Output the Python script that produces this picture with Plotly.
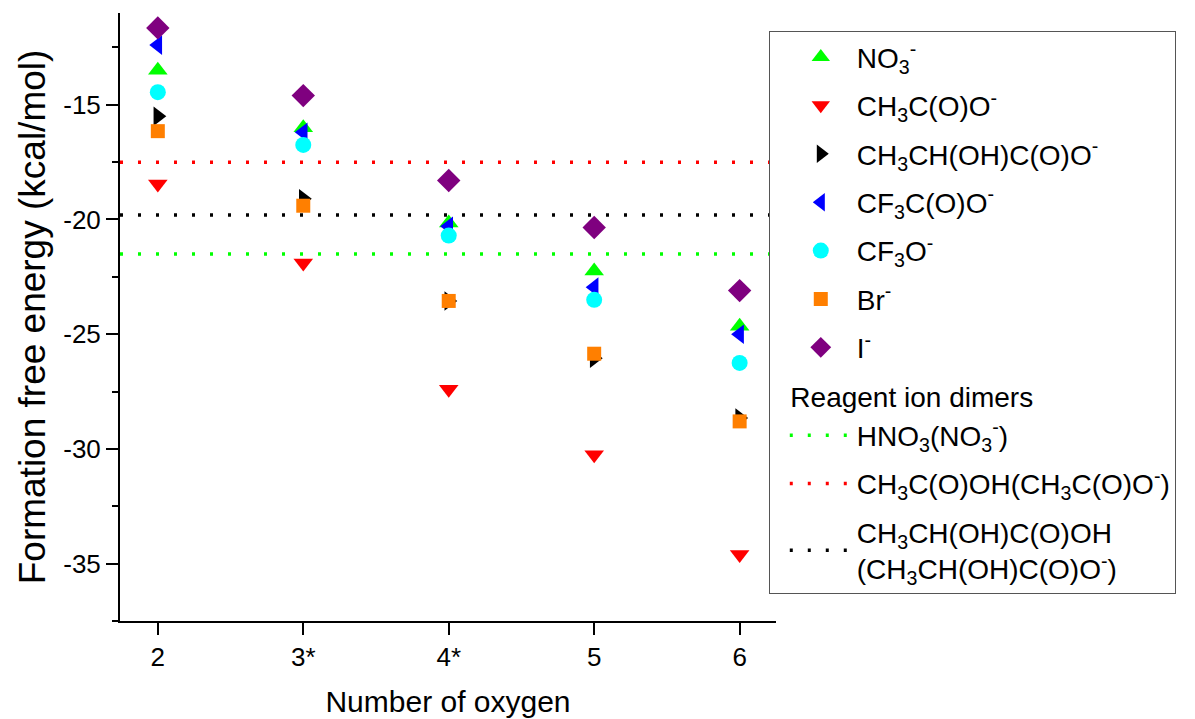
import plotly.graph_objects as go

categories = ["2", "3*", "4*", "5", "6"]

nitrate = [-13.5, -16.0, -20.15, -22.25, -24.65]
acetate = [-18.45, -21.9, -27.4, -30.25, -34.6]
lactate = [-15.5, -19.1, -23.55, -26.05, -28.65]
tfa = [-12.4, -16.2, -20.3, -22.95, -25.0]
cf3o = [-14.45, -16.75, -20.7, -23.5, -26.25]
bromide = [-16.15, -19.4, -23.55, -25.85, -28.8]
iodide = [-11.65, -14.6, -18.3, -20.35, -23.1]

series_names = ["NO<sub>3</sub><sup>-</sup>",
                "CH<sub>3</sub>C(O)O<sup>-</sup>",
                "CH<sub>3</sub>CH(OH)C(O)O<sup>-</sup>",
                "CF<sub>3</sub>C(O)O<sup>-</sup>",
                "CF<sub>3</sub>O<sup>-</sup>",
                "Br<sup>-</sup>",
                "I<sup>-</sup>"]

dimer_title = "\u00a0\u00a0Reagent ion dimers"
dimer_names = ["HNO<sub>3</sub>(NO<sub>3</sub><sup>-</sup>)",
               "CH<sub>3</sub>C(O)OH(CH<sub>3</sub>C(O)O<sup>-</sup>)",
               "CH<sub>3</sub>CH(OH)C(O)OH<br>(CH<sub>3</sub>CH(OH)C(O)O<sup>-</sup>)"]
dimer_values = [-21.5, -17.5, -19.8]

y_tickvals = [-15, -20, -25, -30, -35]
y_ticktext = ["-15", "-20", "-25", "-30", "-35"]
y_minor = [-12.5, -17.5, -22.5, -27.5, -32.5, -37.5]

series_values = [nitrate, acetate, lactate, tfa, cf3o, bromide, iodide]
symbols = ["triangle-up", "triangle-down", "triangle-right", "triangle-left",
           "circle", "square", "diamond"]
colors = ["#00FF00", "#FF0000", "#000000", "#0000FF", "#00FFFF", "#FF7F00", "#7F007F"]
sizes = [17, 17, 17, 17, 16, 14, 18]
dimer_colors = ["#00FF00", "#FF0000", "#000000"]

FONT = "Liberation Sans, Arial, sans-serif"

fig = go.Figure()

for i in range(3):
    fig.add_hline(y=dimer_values[i], line=dict(color=dimer_colors[i], width=3.5, dash="3px,15px"),
                  layer="below")

for name, vals, sym, col, sz in zip(series_names, series_values, symbols, colors, sizes):
    fig.add_trace(go.Scatter(x=categories, y=vals, mode="markers", name=name,
                             legendgroup=name,
                             marker=dict(symbol=sym, color=col, size=sz, line=dict(width=0))))

for i in range(3):
    kw = {}
    if i == 0:
        kw["legendgrouptitle"] = dict(text=dimer_title, font=dict(size=28, color="black"))
    fig.add_trace(go.Scatter(x=[None], y=[None], mode="lines", name=dimer_names[i],
                             legendgroup="dimer%d" % i,
                             line=dict(color=dimer_colors[i], width=3.5, dash="3px,15px"), **kw))

fig.update_layout(
    width=1195, height=719,
    paper_bgcolor="white", plot_bgcolor="white",
    font=dict(family=FONT, size=26, color="black"),
    margin=dict(l=112, r=427, t=5, b=106, autoexpand=False),
    legend=dict(x=0.989, xanchor="left", y=0.97, yanchor="top",
                bordercolor="#555555", borderwidth=1, bgcolor="white",
                font=dict(size=28), tracegroupgap=9, itemwidth=62, indentation=15),
    showlegend=True,
)

fig.update_xaxes(type="category", range=[-0.26, 4.25], showline=True, linecolor="black",
                 linewidth=2, ticks="outside", ticklen=12, tickwidth=2, tickcolor="black",
                 showgrid=False, zeroline=False, mirror=False,
                 title=dict(text="Number of oxygen", font=dict(size=30), standoff=20),
                 tickfont=dict(size=26))
fig.update_yaxes(range=[-37.5, -11.0], showline=True, linecolor="black", linewidth=2,
                 ticks="outside", ticklen=12, tickwidth=2, tickcolor="black",
                 tickvals=y_tickvals, ticktext=y_ticktext,
                 minor=dict(tickvals=y_minor,
                            ticks="outside", ticklen=6, tickwidth=2, tickcolor="black"),
                 showgrid=False, zeroline=False,
                 title=dict(text="Formation free energy (kcal/mol)", font=dict(size=37), standoff=6),
                 tickfont=dict(size=26))

fig.write_html("out.html")
